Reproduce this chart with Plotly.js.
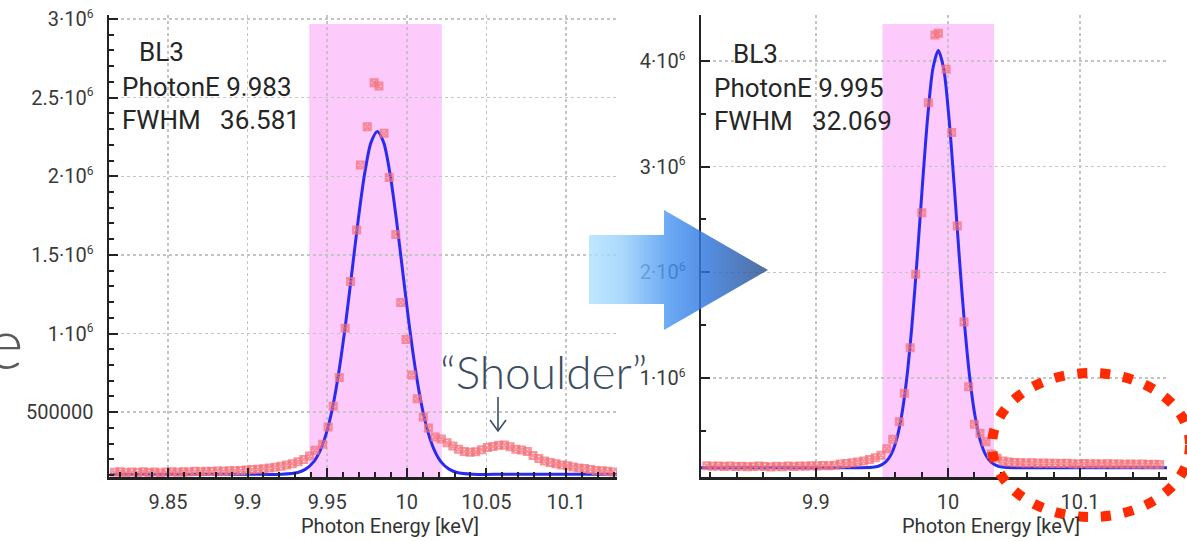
<!DOCTYPE html>
<html>
<head>
<meta charset="utf-8">
<script src="https://cdn.plot.ly/plotly-3.0.1.min.js"></script>
<style>html,body{margin:0;padding:0;background:#fff;}#chart{width:1187px;height:541px;}</style>
</head>
<body>
<div id="chart"></div>
<script>
// ---------- data ----------
// Left panel (before): measured spectrum
const leftEnergy = [
  9.8165, 9.8201, 9.8237, 9.8273, 9.8309, 9.8345, 9.8381, 9.8417, 9.8453, 9.8489,
  9.8525, 9.8561, 9.8597, 9.8633, 9.8669, 9.8705, 9.8741, 9.8777, 9.8813, 9.8849,
  9.8885, 9.8921, 9.8957, 9.8993, 9.9029, 9.9065, 9.9101, 9.9137, 9.9173, 9.9209,
  9.9245, 9.9281, 9.9317, 9.9353, 9.9389,
  9.9423, 9.9471, 9.9506, 9.9538, 9.9576, 9.9613, 9.9647, 9.9685, 9.9708, 9.9752,
  9.9795, 9.9825, 9.9857, 9.989, 9.9931, 9.9962, 9.9995, 10.0031, 10.0066, 10.0104,
  10.0136, 10.0178,
  10.0217, 10.0253, 10.0289, 10.0325, 10.0361, 10.0397, 10.0433, 10.0469, 10.0505, 10.0541,
  10.0577, 10.0613, 10.0649, 10.0685, 10.0721, 10.0757, 10.0793, 10.0829, 10.0865, 10.0901,
  10.0937, 10.0973, 10.1009, 10.1045, 10.1081, 10.1117, 10.1153, 10.1189, 10.1225, 10.1261,
  10.1297
];
const leftCounts = [
  118000, 122000, 115000, 119000, 116000, 121000, 117000, 120000, 114000, 119000,
  121000, 118000, 122000, 120000, 124000, 121000, 125000, 123000, 126000, 124000,
  128000, 127000, 130000, 132000, 135000, 137000, 141000, 145000, 150000, 157000,
  164000, 173000, 185000, 200000, 222000,
  258000, 296000, 406000, 538000, 721000, 1034000, 1331000, 1658000, 2071000, 2315000,
  2595000, 2574000, 2273000, 1993000, 1630000, 1198000, 962000, 737000, 585000, 470000,
  400000, 343000,
  330000, 305000, 285000, 265000, 250000, 245000, 248000, 262000, 275000, 282000,
  290000, 292000, 280000, 265000, 260000, 250000, 225000, 205000, 190000, 180000,
  172000, 165000, 160000, 152000, 146000, 142000, 135000, 130000, 128000, 124000,
  120000
];
// Left panel fit curve
const leftFitEnergy = [9.8135, 9.9015, 9.9215, 9.9315, 9.9365, 9.9415, 9.9455, 9.9495, 9.9535, 9.9575,
  9.9615, 9.9655, 9.9695, 9.9735, 9.9775, 9.9815, 9.9855, 9.9895, 9.9935, 9.9975,
  10.0015, 10.0055, 10.0095, 10.0135, 10.0175, 10.0215, 10.0265, 10.0315, 10.0415, 10.0615, 10.132];
const leftFitCounts = [105000, 105000, 106000, 117000, 138000, 184000, 254000, 367000, 535000, 767000,
  1057000, 1388000, 1723000, 2014000, 2214000, 2285000, 2214000, 2014000, 1723000, 1388000,
  1057000, 767000, 535000, 367000, 254000, 184000, 138000, 117000, 106000, 105000, 105000];
const leftWindow = [9.9387, 10.022];
const leftWindowTop = 2968000;
const leftInfo = ['BL3', 'PhotonE\u00a09.983', 'FWHM\u00a0\u00a0\u00a036.581'];

// Right panel (after): measured spectrum
const rightEnergy = [
  9.8173, 9.8217, 9.8261, 9.8305, 9.8349, 9.8393, 9.8437, 9.8481, 9.8525, 9.8569,
  9.8613, 9.8657, 9.8701, 9.8745, 9.8789, 9.8833, 9.8877, 9.8921, 9.8965, 9.9009,
  9.9053, 9.9097, 9.9141, 9.9185, 9.9229, 9.9273, 9.9317, 9.9361, 9.9405, 9.9449,
  9.9493,
  9.9537, 9.9582, 9.9632, 9.967, 9.9714, 9.9756, 9.9802, 9.9852, 9.9902, 9.9928,
  9.9986, 10.0029, 10.0071, 10.0122, 10.0157, 10.02, 10.0243, 10.0288,
  10.0329, 10.0373, 10.0417, 10.0461, 10.0505, 10.0549, 10.0593, 10.0637, 10.0681, 10.0725,
  10.0769, 10.0813, 10.0857, 10.0901, 10.0945, 10.0989, 10.1033, 10.1077, 10.1121, 10.1165,
  10.1209, 10.1253, 10.1297, 10.1341, 10.1385, 10.1429, 10.1473, 10.1517, 10.1561, 10.1605
];
const rightCounts = [
  170000, 165000, 168000, 163000, 166000, 162000, 165000, 160000, 163000, 167000,
  162000, 158000, 164000, 161000, 166000, 163000, 168000, 165000, 170000, 168000,
  172000, 170000, 175000, 185000, 190000, 198000, 205000, 215000, 228000, 245000,
  270000,
  330000, 420000, 587000, 855000, 1287000, 1981000, 2564000, 3605000, 4246000, 4262000,
  3921000, 3322000, 2438000, 1530000, 918000, 562000, 476000, 397000,
  280000, 240000, 215000, 205000, 200000, 198000, 196000, 197000, 194000, 195000,
  192000, 194000, 190000, 192000, 188000, 185000, 190000, 187000, 189000, 186000,
  188000, 185000, 187000, 184000, 186000, 183000, 185000, 182000, 184000, 181000
];
const rightFitEnergy = [9.8127, 9.9127, 9.9327, 9.9427, 9.9477, 9.9527, 9.9567, 9.9607, 9.9647, 9.9687,
  9.9727, 9.9767, 9.9807, 9.9847, 9.9887, 9.9927, 9.9967, 10.0007, 10.0047, 10.0087,
  10.0127, 10.0167, 10.0207, 10.0247, 10.0287, 10.0327, 10.0377, 10.0427, 10.0527, 10.166];
const rightFitCounts = [150000, 150000, 151000, 155000, 167000, 203000, 270000, 400000, 628000, 986000,
  1494000, 2131000, 2830000, 3474000, 3933000, 4100000, 3933000, 3474000, 2830000, 2131000,
  1494000, 986000, 628000, 400000, 270000, 203000, 167000, 155000, 151000, 150000];
const rightWindow = [9.9504, 10.0349];
const rightWindowTop = 4350000;
const rightInfo = ['BL3', 'PhotonE\u00a09.995', 'FWHM\u00a0\u00a0\u00a032.069'];

// Tick labels
const SUP6 = '<sup><span style="font-size:12px">6</span></sup>';
const leftXTicks = [9.85, 9.9, 9.95, 10, 10.05, 10.1];
const leftXText = ['9.85', '9.9', '9.95', '10', '10.05', '10.1'];
const leftYTicks = [500000, 1000000, 1500000, 2000000, 2500000, 3000000];
const leftYText = ['500000', '1·10' + SUP6, '1.5·10' + SUP6, '2·10' + SUP6, '2.5·10' + SUP6, '3·10' + SUP6];
const rightXTicks = [9.9, 10, 10.1];
const rightXText = ['9.9', '10', '10.1'];
const rightYTicks = [1000000, 2000000, 3000000, 4000000];
const rightYText = ['1·10' + SUP6, '2·10' + SUP6, '3·10' + SUP6, '4·10' + SUP6];
const xTitle = 'Photon Energy [keV]';
const calloutText = '\u201cShoulder\u201d';

// ---------- styling ----------
const W = 1187, H = 541;
const px = v => v / W;
const py = v => 1 - v / H;
const markerStyle = {symbol: 'square-x-open', size: 7, color: 'rgba(246,112,122,0.75)', line: {width: 2}};
const fitStyle = {color: '#2a2af2', width: 3, shape: 'spline', smoothing: 0.8};

const traces = [
  {x: leftFitEnergy, y: leftFitCounts, xaxis: 'x', yaxis: 'y', mode: 'lines', line: fitStyle, hoverinfo: 'skip'},
  {x: leftEnergy, y: leftCounts, xaxis: 'x', yaxis: 'y', mode: 'markers', marker: markerStyle, hoverinfo: 'skip'},
  {x: rightFitEnergy, y: rightFitCounts, xaxis: 'x2', yaxis: 'y2', mode: 'lines', line: fitStyle, hoverinfo: 'skip'},
  {x: rightEnergy, y: rightCounts, xaxis: 'x2', yaxis: 'y2', mode: 'markers', marker: markerStyle, hoverinfo: 'skip'}
];

const tickFont = {family: 'Roboto, sans-serif', size: 20, color: '#3a3a3a'};
function xAxis(domain, range, vals, text, minorDtick, anchor) {
  return {
    domain: domain, range: range, anchor: anchor,
    tickmode: 'array', tickvals: vals, ticktext: text, tickfont: tickFont,
    ticks: 'inside', ticklen: 9, tickwidth: 2, tickcolor: '#222',
    showline: true, linecolor: '#222', linewidth: 2.5,
    showgrid: true, gridcolor: '#c4c4c4', griddash: 'dot', gridwidth: 1.5,
    zeroline: false, ticklabelstandoff: 5,
    minor: {tick0: 9.8, dtick: minorDtick, ticks: 'inside', ticklen: 5, tickwidth: 2, tickcolor: '#222', showgrid: false}
  };
}
function yAxis(range, vals, text, minorDtick, anchor) {
  return {
    domain: [64 / H, 526 / H], range: range, anchor: anchor,
    tickmode: 'array', tickvals: vals, ticktext: text, tickfont: tickFont,
    ticks: 'inside', ticklen: 9, tickwidth: 2, tickcolor: '#222',
    showline: true, linecolor: '#222', linewidth: 2.5,
    showgrid: true, gridcolor: '#c4c4c4', griddash: 'dot', gridwidth: 1.5,
    zeroline: false, ticklabelstandoff: 9,
    minor: {tick0: 0, dtick: minorDtick, ticks: 'inside', ticklen: 5, tickwidth: 2, tickcolor: '#222', showgrid: false}
  };
}

const infoFont = s => ({family: 'Roboto, sans-serif', size: s, color: '#262626'});
const titleFont = {family: 'Roboto, sans-serif', size: 20, color: '#333'};
const annotations = [
  {xref: 'paper', yref: 'paper', x: px(137), y: py(52), xanchor: 'left', yanchor: 'middle', text: leftInfo[0], showarrow: false, font: infoFont(26)},
  {xref: 'paper', yref: 'paper', x: px(120), y: py(87), xanchor: 'left', yanchor: 'middle', text: leftInfo[1], showarrow: false, font: infoFont(26)},
  {xref: 'paper', yref: 'paper', x: px(120), y: py(120), xanchor: 'left', yanchor: 'middle', text: leftInfo[2], showarrow: false, font: infoFont(26)},
  {xref: 'paper', yref: 'paper', x: px(731), y: py(54), xanchor: 'left', yanchor: 'middle', text: rightInfo[0], showarrow: false, font: infoFont(26)},
  {xref: 'paper', yref: 'paper', x: px(712), y: py(88), xanchor: 'left', yanchor: 'middle', text: rightInfo[1], showarrow: false, font: infoFont(26)},
  {xref: 'paper', yref: 'paper', x: px(712), y: py(121), xanchor: 'left', yanchor: 'middle', text: rightInfo[2], showarrow: false, font: infoFont(26)},
  {xref: 'paper', yref: 'paper', x: px(390), y: py(526), xanchor: 'center', yanchor: 'middle', text: xTitle, showarrow: false, font: titleFont},
  {xref: 'paper', yref: 'paper', x: px(991), y: py(526), xanchor: 'center', yanchor: 'middle', text: xTitle, showarrow: false, font: titleFont},
  {xref: 'paper', yref: 'paper', x: px(543), y: py(371), xanchor: 'center', yanchor: 'middle', text: calloutText, showarrow: false,
   font: {family: 'Lato, "Open Sans", sans-serif', size: 46, color: '#3b4d60', weight: 300}},
  {xref: 'paper', yref: 'paper', x: px(26), y: py(342), xanchor: 'right', yanchor: 'middle', text: 'e', showarrow: false,
   font: {family: 'Lato, "Open Sans", sans-serif', size: 70, color: '#5a5a5a', weight: 300}}
];

const arrowSvg = "<svg xmlns='http://www.w3.org/2000/svg' width='179' height='120' viewBox='0 0 179 120'>" +
  "<defs><linearGradient id='g' x1='0' y1='0' x2='1' y2='0'>" +
  "<stop offset='0' stop-color='#b3e2ff'/><stop offset='0.18' stop-color='#9ad2fc'/>" +
  "<stop offset='0.45' stop-color='#4a96f2'/><stop offset='0.65' stop-color='#2f76de'/>" +
  "<stop offset='1' stop-color='#2b4f8c'/></linearGradient></defs>" +
  "<polygon points='0,25 75,25 75,0 179,60 75,120 75,94 0,94' fill='url(#g)'/></svg>";

const shapes = [
  {type: 'rect', xref: 'x', yref: 'y', x0: leftWindow[0], x1: leftWindow[1], y0: 88000, y1: leftWindowTop,
   fillcolor: 'rgba(250,160,250,0.55)', line: {width: 0}, layer: 'below'},
  {type: 'rect', xref: 'x2', yref: 'y2', x0: rightWindow[0], x1: rightWindow[1], y0: 63000, y1: rightWindowTop,
   fillcolor: 'rgba(250,160,250,0.55)', line: {width: 0}, layer: 'below'},
  // callout arrow
  {type: 'line', xref: 'paper', yref: 'paper', x0: px(498), x1: px(498), y0: py(397), y1: py(431), line: {color: '#3b4d60', width: 1.6}},
  {type: 'path', xref: 'paper', yref: 'paper',
   path: 'M ' + px(490) + ' ' + py(420) + ' L ' + px(498) + ' ' + py(431) + ' L ' + px(506) + ' ' + py(420),
   line: {color: '#3b4d60', width: 1.6}},
  // red dashed ellipse
  {type: 'circle', xref: 'paper', yref: 'paper', x0: px(992), x1: px(1190), y0: py(517), y1: py(373),
   line: {color: '#ff2a00', width: 10, dash: '10px,13px'}, layer: 'above'}
];

const layout = {
  width: W, height: H, margin: {l: 0, r: 0, t: 0, b: 0},
  paper_bgcolor: '#ffffff', plot_bgcolor: 'rgba(0,0,0,0)', showlegend: false,
  font: {family: 'Roboto, sans-serif', color: '#333'},
  xaxis: xAxis([109 / W, 617 / W], [9.813, 10.132], leftXTicks, leftXText, 0.01, 'y'),
  yaxis: yAxis([88000, 3025500], leftYTicks, leftYText, 100000, 'x'),
  xaxis2: xAxis([701 / W, 1167 / W], [9.8129, 10.166], rightXTicks, rightXText, 0.02, 'y2'),
  yaxis2: yAxis([63000, 4435000], rightYTicks, rightYText, 500000, 'x2'),
  annotations: annotations,
  shapes: shapes,
  images: [{source: 'data:image/svg+xml;charset=utf-8,' + encodeURIComponent(arrowSvg),
    xref: 'paper', yref: 'paper', x: px(589), y: py(210), sizex: 179 / W, sizey: 120 / H,
    xanchor: 'left', yanchor: 'top', sizing: 'stretch', layer: 'above', opacity: 0.82}]
};

Plotly.newPlot('chart', traces, layout, {staticPlot: true, displayModeBar: false});
</script>
</body>
</html>
